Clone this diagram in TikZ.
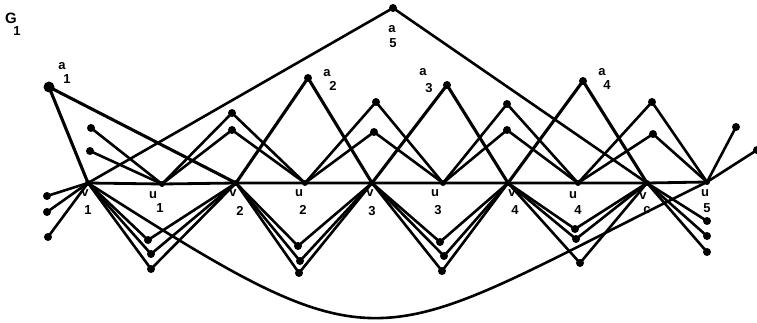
\documentclass[tikz,border=0pt]{standalone}
\usepackage{fontspec}
\setmainfont{Liberation Sans}
\begin{document}
\begin{tikzpicture}[x=1pt,y=-1pt,
  edge/.style={line width=2.6pt, line cap=round},
  aedge/.style={line width=3.1pt, line cap=round},
  dot/.style={circle, fill=black, inner sep=0pt, minimum size=8pt},
  hub/.style={circle, fill=black, inner sep=0pt, minimum size=6pt},
  lbl/.style={font=\fontsize{13}{14}\selectfont\bfseries, inner sep=0pt}]
\useasboundingbox (0,0) rectangle (757,323);
% main path vertices
\coordinate (v1) at (88,183);  \coordinate (u1) at (162,184);
\coordinate (v2) at (236,183); \coordinate (u2) at (305,183);
\coordinate (v3) at (372,183); \coordinate (u3) at (443,183);
\coordinate (v4) at (508,183); \coordinate (u4) at (578,183);
\coordinate (v5) at (647,183); \coordinate (u5) at (707,182);
% a vertices
\coordinate (a1) at (49,87);  \coordinate (a2) at (308,78);
\coordinate (a3) at (447,85); \coordinate (a4) at (583,81);
\coordinate (a5) at (393,8);
% upper small vertices
\coordinate (L1) at (91,128);  \coordinate (L2) at (90,151);
\coordinate (p1a) at (232,113); \coordinate (p1b) at (232,130);
\coordinate (p2a) at (376,102); \coordinate (p2b) at (374,132);
\coordinate (p3a) at (507,104); \coordinate (p3b) at (507,130);
\coordinate (p4a) at (652,102); \coordinate (p4b) at (653,134);
\coordinate (R1) at (736,127);  \coordinate (R2) at (757,150);
% lower small vertices
\coordinate (q0a) at (47,196);  \coordinate (q0b) at (47,212);  \coordinate (q0c) at (48,237);
\coordinate (q1a) at (148,240); \coordinate (q1b) at (151,254); \coordinate (q1c) at (151,269);
\coordinate (q2a) at (298,246); \coordinate (q2b) at (300,261); \coordinate (q2c) at (299,273);
\coordinate (q3a) at (440,242); \coordinate (q3b) at (444,256); \coordinate (q3c) at (442,271);
\coordinate (q4a) at (575,229); \coordinate (q4b) at (576,239); \coordinate (q4c) at (580,263);
\coordinate (q5a) at (707,221); \coordinate (q5b) at (707,236); \coordinate (q5c) at (707,252);

% horizontal path
\draw[line width=2.8pt] (v1) -- (u1) -- (v2) -- (u2) -- (v3) -- (u3) -- (v4) -- (u4) -- (v5) -- (u5);
% a edges
\draw[aedge] (v1) -- (a1) -- (v2);
\draw[aedge] (v2) -- (a2) -- (v3);
\draw[aedge] (v3) -- (a3) -- (v4);
\draw[aedge] (v4) -- (a4) -- (v5);
\draw[edge] (v1) -- (a5) -- (v5);
% upper zigzags
\draw[edge] (L1) -- (u1);
\draw[edge] (L2) -- (u1);
\draw[edge] (u1) -- (p1a) -- (u2);
\draw[edge] (u1) -- (p1b) -- (u2);
\draw[edge] (u2) -- (p2a) -- (u3);
\draw[edge] (u2) -- (p2b) -- (u3);
\draw[edge] (u3) -- (p3a) -- (u4);
\draw[edge] (u3) -- (p3b) -- (u4);
\draw[edge] (u4) -- (p4a) -- (u5);
\draw[edge] (u4) -- (p4b) -- (u5);
\draw[edge] (u5) -- (R1);
% lower zigzags
\foreach \s in {a,b,c}{
  \draw[edge] (v1) -- (q0\s);
  \draw[edge] (v1) -- (q1\s) -- (v2);
  \draw[edge] (v2) -- (q2\s) -- (v3);
  \draw[edge] (v3) -- (q3\s) -- (v4);
  \draw[edge] (v4) -- (q4\s) -- (v5);
  \draw[edge] (v5) -- (q5\s);
}
% long curve
\draw[edge] (v1) .. controls (393,378) and (369,348) .. (u5) -- (R2);

% dots
\foreach \p in {a1,a2,a3,a4,a5,L1,L2,p1a,p1b,p2a,p2b,p3a,p3b,p4a,p4b,R1,R2,
  q0a,q0b,q0c,q1a,q1b,q1c,q2a,q2b,q2c,q3a,q3b,q3c,q4a,q4b,q4c,q5a,q5b,q5c}
  \node[dot] (d\p) at (\p) {};
\node[dot, minimum size=11pt] (da1big) at (a1) {};
\foreach \p in {v1,u1,v2,u2,v3,u3,v4,u4,v5,u5}
  \node[hub] (d\p) at (\p) {};

% labels
\node[lbl, font=\fontsize{15}{16}\selectfont\bfseries] (tG) at (11,18) {G};
\node[lbl] (tG1) at (17,31) {1};
\node[lbl] (ta1) at (62,66) {a};  \node[lbl] (ta1s) at (67,79) {1};
\node[lbl] (ta2) at (327,73) {a}; \node[lbl] (ta2s) at (333,86) {2};
\node[lbl] (ta3) at (423,72) {a}; \node[lbl] (ta3s) at (429,88) {3};
\node[lbl] (ta4) at (602,72) {a}; \node[lbl] (ta4s) at (607,85) {4};
\node[lbl] (ta5) at (392,29) {a}; \node[lbl] (ta5s) at (393,43) {5};
\node[lbl] (tv1) at (85,193) {v};  \node[lbl] (tv1s) at (88,210) {1};
\node[lbl] (tu1) at (153,195) {u}; \node[lbl] (tu1s) at (160,208) {1};
\node[lbl] (tv2) at (233,193) {v}; \node[lbl] (tv2s) at (240,211) {2};
\node[lbl] (tu2) at (299,193) {u}; \node[lbl] (tu2s) at (303,210) {2};
\node[lbl] (tv3) at (370,193) {v}; \node[lbl] (tv3s) at (372,211) {3};
\node[lbl] (tu3) at (435,193) {u}; \node[lbl] (tu3s) at (438,210) {3};
\node[lbl] (tv4) at (512,193) {v}; \node[lbl] (tv4s) at (515,210) {4};
\node[lbl] (tu4) at (573,195) {u}; \node[lbl] (tu4s) at (578,210) {4};
\node[lbl] (tv5) at (643,196) {v}; \node[lbl] (tv5s) at (647,210) {c};
\node[lbl] (tu5) at (705,193) {u}; \node[lbl] (tu5s) at (707,208) {5};
\end{tikzpicture}
\end{document}
